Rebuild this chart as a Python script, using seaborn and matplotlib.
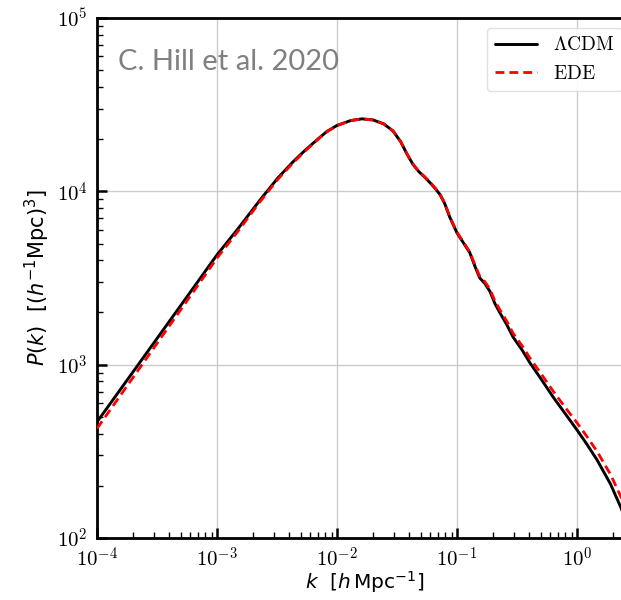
import numpy as np
import pandas as pd
import matplotlib
matplotlib.use("Agg")
import matplotlib.pyplot as plt
from matplotlib.ticker import FuncFormatter, LogLocator, NullFormatter
import seaborn as sns

# --- data ---
k_lcdm = [1e-4, 2e-4, 3e-4, 5e-4, 1e-3, 1.5e-3, 2.28e-3, 3.2e-3, 4.3e-3, 5.5e-3, 6.8e-3,
          8.2e-3, 1e-2, 1.3e-2, 1.62e-2, 2.0e-2, 2.45e-2, 2.93e-2, 3.4e-2, 3.83e-2, 4.3e-2, 4.8e-2,
          5.3e-2, 5.9e-2, 6.5e-2, 7.2e-2, 7.9e-2, 8.7e-2, 0.1, 0.113, 0.128, 0.142, 0.155,
          0.17, 0.188, 0.207, 0.228, 0.26, 0.293, 0.35, 0.406, 0.5, 0.631, 0.8, 1.0, 1.2,
          1.47, 1.9, 2.33, 2.77]
p_lcdm = [467, 910, 1345, 2200, 4300, 6100, 8900, 11900, 14800, 17400, 19800,
          22100, 24000, 25600, 26200, 25800, 24500, 22300, 19300, 16400, 14300, 13000,
          12200, 11300, 10500, 9600, 8500, 7100, 5750, 5050, 4420, 3650, 3160,
          2950, 2650, 2250, 1990, 1700, 1445, 1210, 1023, 830, 652, 520, 420, 350,
          282, 205, 149, 105]
p_ede = [428, 845, 1260, 2080, 4120, 5900, 8700, 11700, 14600, 17250, 19700,
         22000, 23950, 25600, 26200, 25800, 24500, 22300, 19300, 16450, 14350, 13050,
         12250, 11400, 10550, 9650, 8550, 7150, 5800, 5100, 4470, 3710, 3230,
         3020, 2730, 2330, 2070, 1780, 1520, 1280, 1090, 890, 705, 565, 462, 388,
         316, 233, 172, 122]

df = pd.concat([
    pd.DataFrame({"k": k_lcdm, "P": p_lcdm, "model": "LCDM"}),
    pd.DataFrame({"k": k_lcdm, "P": p_ede, "model": "EDE"}),
])

sns.set_style("white")
plt.rcParams["mathtext.fontset"] = "cm"
plt.rcParams["font.family"] = ["DejaVu Sans"]
for key in ["text.color", "axes.labelcolor", "xtick.color", "ytick.color"]:
    plt.rcParams[key] = "black"

W, H = 621, 600
fig = plt.figure(figsize=(W / 100, H / 100), dpi=100)
left_px, right_px, top_px, bot_px = 97, 632, 18, 538
ax = fig.add_axes([left_px / W, 1 - bot_px / H, (right_px - left_px) / W, (bot_px - top_px) / H])

sns.lineplot(data=df[df.model == "LCDM"], x="k", y="P", ax=ax, color="black",
             lw=2.1, estimator=None, sort=False, label=r"$\Lambda\mathrm{CDM}$", zorder=3)
sns.lineplot(data=df[df.model == "EDE"], x="k", y="P", ax=ax, color="red",
             lw=2.0, estimator=None, sort=False, label=r"$\mathrm{EDE}$", zorder=4,
             dashes=False)
ax.lines[1].set_linestyle((0, (3.2, 1.8)))

ax.set_xscale("log")
ax.set_yscale("log")
ax.set_xlim(1e-4, 10 ** ((right_px - left_px) / 120 - 4))
ax.set_ylim(1e2, 1e5)

fmt = FuncFormatter(lambda v, p: r"$10^{%d}$" % round(np.log10(v)))
ax.xaxis.set_major_formatter(fmt)
ax.yaxis.set_major_formatter(fmt)
ax.xaxis.set_major_locator(LogLocator(base=10, numticks=20))
ax.yaxis.set_major_locator(LogLocator(base=10, numticks=20))
ax.xaxis.set_minor_locator(LogLocator(base=10, subs=np.arange(2, 10), numticks=50))
ax.yaxis.set_minor_locator(LogLocator(base=10, subs=np.arange(2, 10), numticks=50))
ax.xaxis.set_minor_formatter(NullFormatter())
ax.yaxis.set_minor_formatter(NullFormatter())

ax.tick_params(which="major", direction="in", length=7, width=1.8, labelsize=15,
               bottom=True, left=True, top=False, right=False,
               color="black", labelcolor="black")
ax.tick_params(axis="x", which="major", pad=6)
ax.tick_params(axis="y", which="major", pad=7)
ax.tick_params(which="minor", direction="in", length=4, width=1.0,
               bottom=True, left=True, top=False, right=False, color="black")
for s in ax.spines.values():
    s.set_linewidth(2.0)
    s.set_color("black")
ax.spines["right"].set_visible(False)

ax.grid(True, which="major", color="#cccccc", lw=1.0, zorder=0)

ax.set_xlabel(r"$k$  $[h\,\mathrm{Mpc}^{-1}]$", fontsize=14.5, math_fontfamily="dejavusans",
              color="black", va="bottom")
ax.xaxis.set_label_coords(0.5, -57 / (bot_px - top_px))
ax.set_ylabel(r"$P(k)$  $[(h^{-1}\mathrm{Mpc})^3]$", fontsize=15, math_fontfamily="dejavusans",
              labelpad=3, color="black")

ax.text(0.04, 0.94, "C. Hill et al. 2020", transform=ax.transAxes, fontsize=21,
        color="#808080", family="Lato", va="top", ha="left")

leg = ax.legend(loc="upper right", fontsize=14, frameon=True, handlelength=2.2,
                borderaxespad=0.5, fancybox=True, framealpha=0.9)
leg.get_frame().set_edgecolor("#dddddd")
for t in leg.get_texts():
    t.set_color("black")

fig.savefig("out.png", dpi=100)
